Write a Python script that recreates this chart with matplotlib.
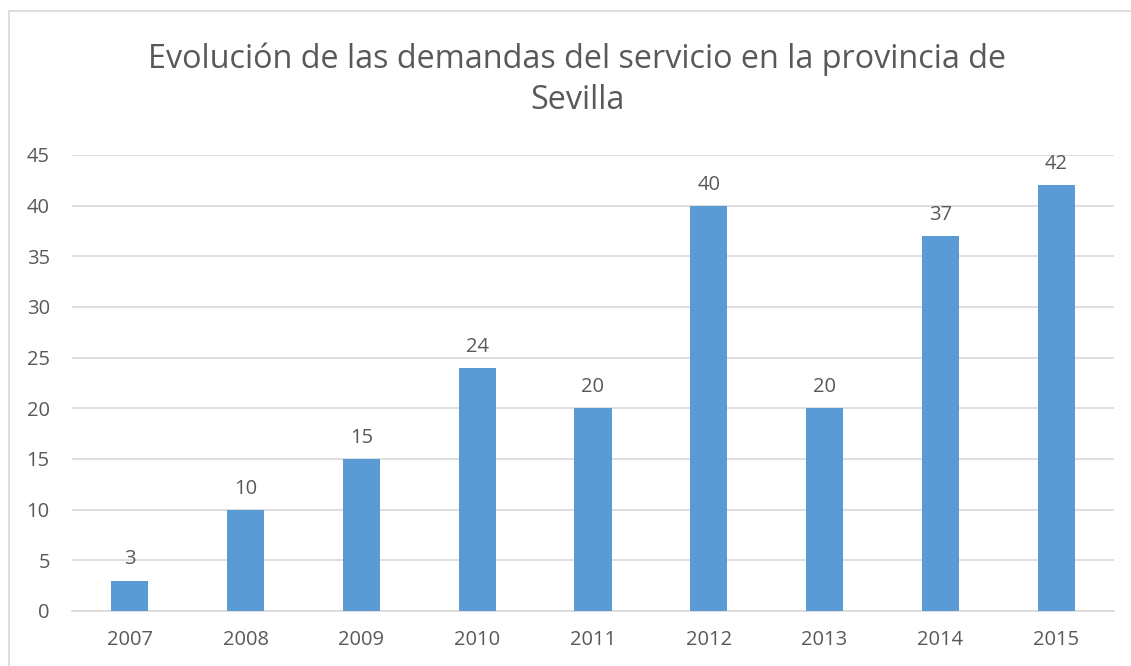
import matplotlib
matplotlib.use("Agg")
import matplotlib.pyplot as plt
from matplotlib.patches import Rectangle

years = ["2007", "2008", "2009", "2010", "2011", "2012", "2013", "2014", "2015"]
values = [3, 10, 15, 24, 20, 40, 20, 37, 42]
yticks = [0, 5, 10, 15, 20, 25, 30, 35, 40, 45]
title = "Evolución de las demandas del servicio en la provincia de\nSevilla"

plt.rcParams['font.family'] = ['Open Sans', 'DejaVu Sans']
txt = '#595959'

fig = plt.figure(figsize=(11.31, 6.66), dpi=100)
fig.patches.append(Rectangle((9/1131, -0.01), 1.5, 1 - 11/666 + 0.01, transform=fig.transFigure,
                             fill=False, edgecolor='#d9d9d9', linewidth=1.2))
ax = fig.add_axes([72/1131, 55/666, (1114-72)/1131, (611-155)/666])
x = list(range(len(years)))
ax.bar(x, values, width=0.32, color='#5b9bd5', zorder=3)
ax.set_xlim(-0.5, len(years) - 0.5)
ax.set_ylim(0, 45)
ax.set_yticks(yticks)
ax.set_xticks(x)
ax.set_xticklabels(years)
ax.yaxis.grid(True, color='#d9d9d9', linewidth=1.2, zorder=0)
for s in ['top', 'right', 'left']:
    ax.spines[s].set_visible(False)
ax.spines['bottom'].set_color('#d9d9d9')
ax.spines['bottom'].set_linewidth(1.2)
ax.tick_params(length=0, labelsize=14.5, colors=txt)
ax.tick_params(axis='x', pad=14)
ax.tick_params(axis='y', pad=16)
for xi, v in zip(x, values):
    ax.annotate(str(v), (xi, v), xytext=(0, 8), textcoords='offset points',
                ha='center', va='bottom', fontsize=14.5, color=txt)
fig.text(577/1131, 1 - 80/666, title, ha='center', va='center', fontsize=23.3,
         color=txt, linespacing=1.3)
fig.savefig('out.png', dpi=100)
